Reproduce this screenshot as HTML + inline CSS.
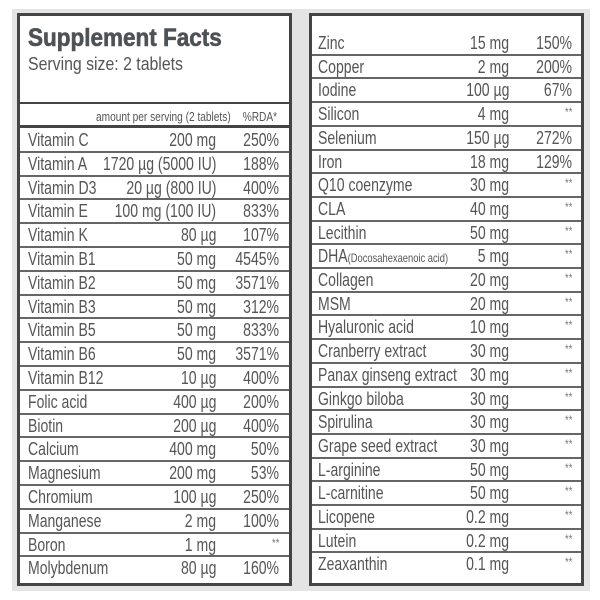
<!DOCTYPE html>
<html><head><meta charset="utf-8"><style>
*{margin:0;padding:0;box-sizing:border-box}
body{width:600px;height:600px;background:#fff;position:relative;overflow:hidden;font-family:"Liberation Sans",sans-serif;color:#555}
.frame{position:absolute;left:12px;top:9px;width:578px;height:582px;background:#e4e4e4}
.box{position:absolute;background:#fff;border:3px solid #444}
.r{position:absolute;left:0;right:0;height:24px;font-size:18px;line-height:24px}
.r span{position:absolute;white-space:nowrap;transform:scaleX(0.78)}
.r .n{transform-origin:left center}
.r .a,.r .p{transform-origin:right center}
.l .n{left:8px}.l .a{right:73px}.l .p{right:10px}
.rt .n{left:6px}.rt .a{right:72px}.rt .p{right:9px}
.line{position:absolute;left:0;right:0;background:#666}
.st{font-size:12px;color:#777;position:relative;top:-4px}
</style></head><body>
<div class="frame"></div>
<div class="box l" style="left:17px;top:13px;width:275px;height:573px">
<div style="position:absolute;left:8px;top:8px;font-weight:bold;font-size:25px;color:#4d5256;transform:scaleX(0.9);transform-origin:left;white-space:nowrap;-webkit-text-stroke:0.6px #4d5256">Supplement Facts</div>
<div style="position:absolute;left:8px;top:38px;font-size:18px;transform:scaleX(0.88);transform-origin:left;white-space:nowrap">Serving size: 2 tablets</div>
<div class="line" style="top:86px;height:2px;background:#444"></div>
<div class="r" style="top:89px;font-size:13px"><span class="a" style="right:58px">amount per serving (2 tablets)</span><span class="p" style="right:12px">%RDA*</span></div>
<div class="line" style="top:109px;height:3px;background:#444"></div>
<div id="L"></div>
</div>
<div class="box rt" style="left:309px;top:13px;width:275px;height:573px"><div id="R"></div></div>
<script>
var L=[["Vitamin C","200 mg","250%"],["Vitamin A","1720 µg (5000 IU)","188%"],["Vitamin D3","20 µg (800 IU)","400%"],["Vitamin E","100 mg (100 IU)","833%"],["Vitamin K","80 µg","107%"],["Vitamin B1","50 mg","4545%"],["Vitamin B2","50 mg","3571%"],["Vitamin B3","50 mg","312%"],["Vitamin B5","50 mg","833%"],["Vitamin B6","50 mg","3571%"],["Vitamin B12","10 µg","400%"],["Folic acid","400 µg","200%"],["Biotin","200 µg","400%"],["Calcium","400 mg","50%"],["Magnesium","200 mg","53%"],["Chromium","100 µg","250%"],["Manganese","2 mg","100%"],["Boron","1 mg","**"],["Molybdenum","80 µg","160%"]];
var R=[["Zinc","15 mg","150%"],["Copper","2 mg","200%"],["Iodine","100 µg","67%"],["Silicon","4 mg","**"],["Selenium","150 µg","272%"],["Iron","18 mg","129%"],["Q10 coenzyme","30 mg","**"],["CLA","40 mg","**"],["Lecithin","50 mg","**"],["DHA<small style='font-size:12px'>(Docosahexaenoic acid)</small>","5 mg","**"],["Collagen","20 mg","**"],["MSM","20 mg","**"],["Hyaluronic acid","10 mg","**"],["Cranberry extract","30 mg","**"],["Panax ginseng extract","30 mg","**"],["Ginkgo biloba","30 mg","**"],["Spirulina","30 mg","**"],["Grape seed extract","30 mg","**"],["L-arginine","50 mg","**"],["L-carnitine","50 mg","**"],["Licopene","0.2 mg","**"],["Lutein","0.2 mg","**"],["Zeaxanthin","0.1 mg","**"]];
function b(d,el,top,h){var s="";d.forEach(function(x,i){var t=top+i*h;
if(i>0)s+='<div class="line" style="top:'+(t-1)+'px;height:2px"></div>';
var p=x[2]=="**"?'<b class="st" style="font-weight:normal">**</b>':x[2];
s+='<div class="r" style="top:'+t+'px"><span class="n">'+x[0]+'</span><span class="a">'+x[1]+'</span><span class="p">'+p+'</span></div>';});
document.getElementById(el).innerHTML=s;}
b(L,"L",112,23.8);
b(R,"R",15,23.7);
</script>
</body></html>
